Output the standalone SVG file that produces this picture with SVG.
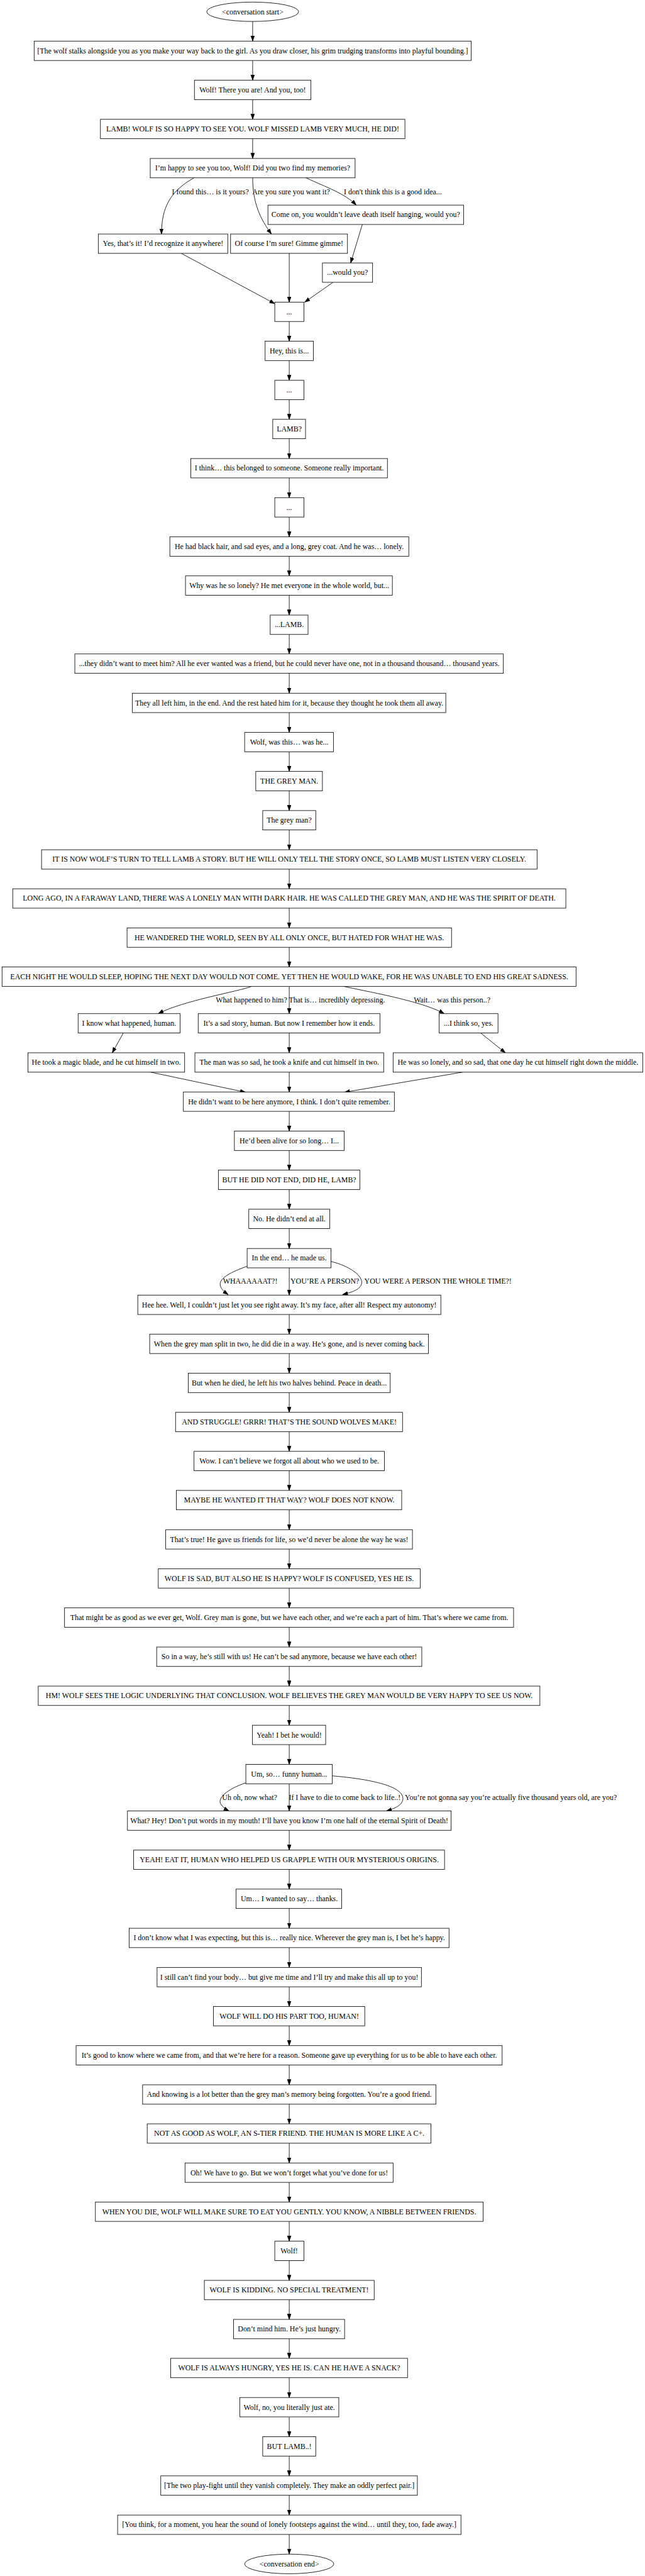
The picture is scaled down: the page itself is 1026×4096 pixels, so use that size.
<svg xmlns="http://www.w3.org/2000/svg" width="1026" height="4096" viewBox="0 0 1026 4096">
<style>
.n rect,.n ellipse{fill:#fff;stroke:#000;stroke-width:1.33}
text{font-family:"Liberation Serif","Times New Roman",serif;font-size:18.67px;fill:#000}
.n text{text-anchor:middle}
.e path{fill:none;stroke:#000;stroke-width:1.33;marker-end:url(#ah)}
</style>
<defs>
<marker id="ah" markerUnits="userSpaceOnUse" markerWidth="15" markerHeight="11" refX="13.33" refY="4.67" orient="auto">
<path d="M0,0 L13.33,4.67 L0,9.33 z" fill="#000" stroke="#000" stroke-width="1"/>
</marker>
</defs>
<rect width="1026" height="4096" fill="#fff"/>
<g transform="scale(0.639)">
<g id="edges" class="e">
<path d="M629,53.4 V102.3"/>
<path d="M629,150.5 V199.7"/>
<path d="M629,248 V296.9"/>
<path d="M629,345 V394.3"/>
<path d="M483,442.5 C425,475 402,515 402,582.3"/>
<path d="M629,442.5 C629,505 648,545 675.6,582.3"/>
<path d="M761.6,442.5 C810,465 860,482 886.6,510.4"/>
<path d="M902,558.2 L873,654.3"/>
<path d="M451.5,630.6 L684,755.6"/>
<path d="M720,630.6 V751.8"/>
<path d="M829,702.5 L758.6,751.8"/>
<path d="M720,800 V849"/>
<path d="M720,897.5 V946.4"/>
<path d="M720,994.6 V1043.5"/>
<path d="M720,1092 V1141"/>
<path d="M720,1189 V1238.4"/>
<path d="M720,1286.6 V1335.9"/>
<path d="M720,1384 V1433"/>
<path d="M720,1481.2 V1530.5"/>
<path d="M720,1578.7 V1627.2"/>
<path d="M720,1676 V1725"/>
<path d="M720,1773.2 V1822.5"/>
<path d="M720,1870.7 V1919.6"/>
<path d="M720,1967.8 V2017"/>
<path d="M720,2065 V2114.5"/>
<path d="M720,2162.4 V2211.6"/>
<path d="M720,2259.8 V2309"/>
<path d="M720,2357.3 V2406.2"/>
<path d="M626.5,2454.4 C595,2467 455,2490 394,2522.3"/>
<path d="M720,2454.4 V2522.3"/>
<path d="M855.8,2454.4 C900,2465 1050,2490 1105.6,2522.3"/>
<path d="M307,2570.5 L279.5,2619.7"/>
<path d="M720,2570.5 V2619.7"/>
<path d="M1196.6,2570.5 L1258,2619.7"/>
<path d="M374.7,2667.9 L611,2717.8"/>
<path d="M720,2667.9 V2717.2"/>
<path d="M1151.6,2667.9 L857.8,2717.8"/>
<path d="M720,2765.4 V2814.6"/>
<path d="M720,2862.8 V2911.7"/>
<path d="M720,2960 V3009"/>
<path d="M720,3057.4 V3106.7"/>
<path d="M615.2,3151 C575,3165 548,3180 548,3195 C548,3205 556,3213 568,3221.3"/>
<path d="M720,3154.9 V3222.7"/>
<path d="M824,3139 C870,3150 905,3175 900,3195 C897,3207 880,3215 852.7,3221.3"/>
<path d="M720,3271 V3319.8"/>
<path d="M720,3368 V3417"/>
<path d="M720,3465.2 V3514.4"/>
<path d="M720,3562.6 V3611.5"/>
<path d="M720,3659.7 V3708.7"/>
<path d="M720,3757.2 V3806.4"/>
<path d="M720,3854.6 V3903.6"/>
<path d="M720,3951.8 V4001"/>
<path d="M720,4049.2 V4098.5"/>
<path d="M720,4146.7 V4195.6"/>
<path d="M720,4244 V4293"/>
<path d="M720,4341.3 V4390.5"/>
<path d="M612,4436.3 C565,4452 540,4475 550,4490 C555,4497 562,4502 570,4506.2"/>
<path d="M720,4438.7 V4506.2"/>
<path d="M827,4419 C900,4425 1000,4440 1003,4474 C1004,4490 985,4500 962,4506.2"/>
<path d="M720,4554.4 V4603.7"/>
<path d="M720,4651.9 V4700.8"/>
<path d="M720,4749 V4798.2"/>
<path d="M720,4846.5 V4895.7"/>
<path d="M720,4944 V4992.8"/>
<path d="M720,5041 V5090.3"/>
<path d="M720,5138.5 V5187.8"/>
<path d="M720,5236 V5284.9"/>
<path d="M720,5333.4 V5382.3"/>
<path d="M720,5430.5 V5479.4"/>
<path d="M720,5527.6 V5576.9"/>
<path d="M720,5625.1 V5674.4"/>
<path d="M720,5722.6 V5771.5"/>
<path d="M720,5819.7 V5868.4"/>
<path d="M720,5917.2 V5965.9"/>
<path d="M720,6014.7 V6063.4"/>
<path d="M720,6112.1 V6160.9"/>
<path d="M720,6209.3 V6258.4"/>
<path d="M720,6306.8 V6355.5"/>
</g>
<g id="edge-labels">
<text x="428" y="483">I found this… is it yours?</text>
<text x="628" y="483">Are you sure you want it?</text>
<text x="856" y="483">I don't think this is a good idea...</text>
<text x="537" y="2495">What happened to him?</text>
<text x="719" y="2495">That is… incredibly depressing.</text>
<text x="1030" y="2495">Wait… was this person..?</text>
<text x="555" y="3193.5">WHAAAAAAT?!</text>
<text x="723" y="3193.5">YOU’RE A PERSON?</text>
<text x="907" y="3193.5">YOU WERE A PERSON THE WHOLE TIME?!</text>
<text x="553" y="4479">Uh oh, now what?</text>
<text x="719" y="4479">If I have to die to come back to life..!</text>
<text x="1008" y="4479">You’re not gonna say you’re actually five thousand years old, are you?</text>
</g>
<g id="start" class="n"><ellipse cx="629" cy="29.3" rx="114.5" ry="24.1"/><text x="629" y="35.3">&lt;conversation start&gt;</text></g>
<g id="n1" class="n"><rect x="85" y="102.3" width="1088" height="48.2"/><text x="629" y="132.4">[The wolf stalks alongside you as you make your way back to the girl. As you draw closer, his grim trudging transforms into playful bounding.]</text></g>
<g id="n2" class="n"><rect x="484" y="199.7" width="290" height="48.2"/><text x="629" y="229.9">Wolf! There you are! And you, too!</text></g>
<g id="n3" class="n"><rect x="250" y="296.9" width="758" height="48.2"/><text x="629" y="327">LAMB! WOLF IS SO HAPPY TO SEE YOU. WOLF MISSED LAMB VERY MUCH, HE DID!</text></g>
<g id="n4" class="n"><rect x="374" y="394.3" width="510" height="48.2"/><text x="629" y="424.4">I’m happy to see you too, Wolf! Did you two find my memories?</text></g>
<g id="n5" class="n"><rect x="667" y="510.4" width="487" height="48.2"/><text x="910.5" y="540.5">Come on, you wouldn’t leave death itself hanging, would you?</text></g>
<g id="n6" class="n"><rect x="244.7" y="582.3" width="322.3" height="48.2"/><text x="405.9" y="612.5">Yes, that’s it! I’d recognize it anywhere!</text></g>
<g id="n7" class="n"><rect x="574" y="582.3" width="291" height="48.2"/><text x="719.5" y="612.5">Of course I’m sure! Gimme gimme!</text></g>
<g id="n8" class="n"><rect x="802.6" y="654.3" width="124.9" height="48.2"/><text x="865" y="684.4">...would you?</text></g>
<g id="n9" class="n"><rect x="684" y="751.8" width="72.5" height="48.2"/><text x="720" y="781.9">...</text></g>
<g id="n10" class="n"><rect x="660" y="849" width="120" height="48.2"/><text x="720" y="879.2">Hey, this is...</text></g>
<g id="n11" class="n"><rect x="684" y="946.4" width="72.5" height="48.2"/><text x="720" y="976.5">...</text></g>
<g id="n12" class="n"><rect x="679" y="1043.5" width="81.6" height="48.2"/><text x="720" y="1073.7">LAMB?</text></g>
<g id="n13" class="n"><rect x="475" y="1141" width="489.4" height="48.2"/><text x="720" y="1171">I think… this belonged to someone. Someone really important.</text></g>
<g id="n14" class="n"><rect x="684" y="1238.4" width="72.5" height="48.2"/><text x="720" y="1268.5">...</text></g>
<g id="n15" class="n"><rect x="422.8" y="1335.9" width="594.8" height="48.2"/><text x="720" y="1366">He had black hair, and sad eyes, and a long, grey coat. And he was… lonely.</text></g>
<g id="n16" class="n"><rect x="461.7" y="1433" width="515" height="48.2"/><text x="720" y="1463.1">Why was he so lonely? He met everyone in the whole world, but...</text></g>
<g id="n17" class="n"><rect x="672.6" y="1530.5" width="94.2" height="48.2"/><text x="720" y="1560.6">...LAMB.</text></g>
<g id="n18" class="n"><rect x="186.3" y="1627.2" width="1066.7" height="48.2"/><text x="720" y="1657.6">...they didn’t want to meet him? All he ever wanted was a friend, but he could never have one, not in a thousand thousand… thousand years.</text></g>
<g id="n19" class="n"><rect x="329.6" y="1725" width="780.1" height="48.2"/><text x="720" y="1755.1">They all left him, in the end. And the rest hated him for it, because they thought he took them all away.</text></g>
<g id="n20" class="n"><rect x="609" y="1822.5" width="221" height="48.2"/><text x="720" y="1852.6">Wolf, was this… was he...</text></g>
<g id="n21" class="n"><rect x="636.7" y="1919.6" width="165.9" height="48.2"/><text x="720" y="1949.7">THE GREY MAN.</text></g>
<g id="n22" class="n"><rect x="654" y="2017" width="132" height="48.2"/><text x="720" y="2047">The grey man?</text></g>
<g id="n23" class="n"><rect x="103.4" y="2114.5" width="1233.6" height="48.2"/><text x="720" y="2144.5">IT IS NOW WOLF’S TURN TO TELL LAMB A STORY. BUT HE WILL ONLY TELL THE STORY ONCE, SO LAMB MUST LISTEN VERY CLOSELY.</text></g>
<g id="n24" class="n"><rect x="31.7" y="2211.6" width="1376.9" height="48.2"/><text x="720" y="2241.7">LONG AGO, IN A FARAWAY LAND, THERE WAS A LONELY MAN WITH DARK HAIR. HE WAS CALLED THE GREY MAN, AND HE WAS THE SPIRIT OF DEATH.</text></g>
<g id="n25" class="n"><rect x="316.3" y="2309" width="807.7" height="48.2"/><text x="720" y="2339.2">HE WANDERED THE WORLD, SEEN BY ALL ONLY ONCE, BUT HATED FOR WHAT HE WAS.</text></g>
<g id="n26" class="n"><rect x="5.1" y="2406.2" width="1428.9" height="48.2"/><text x="720" y="2436.3">EACH NIGHT HE WOULD SLEEP, HOPING THE NEXT DAY WOULD NOT COME. YET THEN HE WOULD WAKE, FOR HE WAS UNABLE TO END HIS GREAT SADNESS.</text></g>
<g id="n27" class="n"><rect x="194.5" y="2522.3" width="253.9" height="48.2"/><text x="321.5" y="2552.4">I know what happened, human.</text></g>
<g id="n28" class="n"><rect x="493.4" y="2522.3" width="452.4" height="48.2"/><text x="719.6" y="2552.4">It’s a sad story, human. But now I remember how it ends.</text></g>
<g id="n29" class="n"><rect x="1093.3" y="2522.3" width="146.4" height="48.2"/><text x="1166.5" y="2552.4">...I think so, yes.</text></g>
<g id="n30" class="n"><rect x="69.6" y="2619.7" width="390" height="48.2"/><text x="264.6" y="2649.8">He took a magic blade, and he cut himself in two.</text></g>
<g id="n31" class="n"><rect x="485.2" y="2619.7" width="469.9" height="48.2"/><text x="720.2" y="2649.8">The man was so sad, he took a knife and cut himself in two.</text></g>
<g id="n32" class="n"><rect x="978.6" y="2619.7" width="621.4" height="48.2"/><text x="1289.3" y="2649.8">He was so lonely, and so sad, that one day he cut himself right down the middle.</text></g>
<g id="n33" class="n"><rect x="456.5" y="2717.2" width="525.2" height="48.2"/><text x="720" y="2747.3">He didn’t want to be here anymore, I think. I don’t quite remember.</text></g>
<g id="n34" class="n"><rect x="583.5" y="2814.6" width="273.3" height="48.2"/><text x="720" y="2844.7">He’d been alive for so long… I...</text></g>
<g id="n35" class="n"><rect x="543.6" y="2911.7" width="352.1" height="48.2"/><text x="720" y="2941.9">BUT HE DID NOT END, DID HE, LAMB?</text></g>
<g id="n36" class="n"><rect x="619.3" y="3009" width="201.7" height="48.2"/><text x="720" y="3039.2">No. He didn’t end at all.</text></g>
<g id="n37" class="n"><rect x="615.2" y="3106.7" width="208.8" height="48.2"/><text x="720" y="3136.8">In the end… he made us.</text></g>
<g id="n38" class="n"><rect x="343" y="3222.7" width="754.4" height="48.2"/><text x="720" y="3252.9">Hee hee. Well, I couldn’t just let you see right away. It’s my face, after all! Respect my autonomy!</text></g>
<g id="n39" class="n"><rect x="372.6" y="3319.8" width="694.1" height="48.2"/><text x="720" y="3349.9">When the grey man split in two, he did die in a way. He’s gone, and is never coming back.</text></g>
<g id="n40" class="n"><rect x="468.8" y="3417" width="502.6" height="48.2"/><text x="720" y="3447.1">But when he died, he left his two halves behind. Peace in death...</text></g>
<g id="n41" class="n"><rect x="437" y="3514.4" width="565" height="48.2"/><text x="720" y="3544.5">AND STRUGGLE! GRRR! THAT’S THE SOUND WOLVES MAKE!</text></g>
<g id="n42" class="n"><rect x="483" y="3611.5" width="474" height="48.2"/><text x="720" y="3641.6">Wow. I can’t believe we forgot all about who we used to be.</text></g>
<g id="n43" class="n"><rect x="439" y="3708.7" width="561" height="48.2"/><text x="720" y="3739">MAYBE HE WANTED IT THAT WAY? WOLF DOES NOT KNOW.</text></g>
<g id="n44" class="n"><rect x="412.5" y="3806.4" width="614.2" height="48.2"/><text x="720" y="3836.5">That’s true! He gave us friends for life, so we’d never be alone the way he was!</text></g>
<g id="n45" class="n"><rect x="394" y="3903.6" width="652" height="48.2"/><text x="720" y="3933.7">WOLF IS SAD, BUT ALSO HE IS HAPPY? WOLF IS CONFUSED, YES HE IS.</text></g>
<g id="n46" class="n"><rect x="160.7" y="4001" width="1117.8" height="48.2"/><text x="720" y="4031.1">That might be as good as we ever get, Wolf. Grey man is gone, but we have each other, and we’re each a part of him. That’s where we came from.</text></g>
<g id="n47" class="n"><rect x="390" y="4098.5" width="660" height="48.2"/><text x="720" y="4128.6">So in a way, he’s still with us! He can’t be sad anymore, because we have each other!</text></g>
<g id="n48" class="n"><rect x="95.2" y="4195.6" width="1248.8" height="48.2"/><text x="720" y="4225.8">HM! WOLF SEES THE LOGIC UNDERLYING THAT CONCLUSION. WOLF BELIEVES THE GREY MAN WOULD BE VERY HAPPY TO SEE US NOW.</text></g>
<g id="n49" class="n"><rect x="628.5" y="4293" width="182.2" height="48.2"/><text x="720" y="4323.2">Yeah! I bet he would!</text></g>
<g id="n50" class="n"><rect x="612" y="4390.5" width="215" height="48.2"/><text x="720" y="4420.6">Um, so… funny human...</text></g>
<g id="n51" class="n"><rect x="317.3" y="4506.2" width="805.7" height="48.2"/><text x="720" y="4536.3">What? Hey! Don’t put words in my mouth! I’ll have you know I’m one half of the eternal Spirit of Death!</text></g>
<g id="n52" class="n"><rect x="332.7" y="4603.7" width="773.9" height="48.2"/><text x="720" y="4633.8">YEAH! EAT IT, HUMAN WHO HELPED US GRAPPLE WITH OUR MYSTERIOUS ORIGINS.</text></g>
<g id="n53" class="n"><rect x="587.5" y="4700.8" width="263.1" height="48.2"/><text x="720" y="4730.9">Um… I wanted to say… thanks.</text></g>
<g id="n54" class="n"><rect x="321.4" y="4798.2" width="796.4" height="48.2"/><text x="720" y="4828.4">I don’t know what I was expecting, but this is… really nice. Wherever the grey man is, I bet he’s happy.</text></g>
<g id="n55" class="n"><rect x="391" y="4895.7" width="658" height="48.2"/><text x="720" y="4925.9">I still can’t find your body… but give me time and I’ll try and make this all up to you!</text></g>
<g id="n56" class="n"><rect x="531.2" y="4992.8" width="376.8" height="48.2"/><text x="720" y="5022.9">WOLF WILL DO HIS PART TOO, HUMAN!</text></g>
<g id="n57" class="n"><rect x="189.4" y="5090.3" width="1060.6" height="48.2"/><text x="720" y="5120.4">It’s good to know where we came from, and that we’re here for a reason. Someone gave up everything for us to be able to have each other.</text></g>
<g id="n58" class="n"><rect x="355" y="5187.8" width="730" height="48.2"/><text x="720" y="5217.9">And knowing is a lot better than the grey man’s memory being forgotten. You’re a good friend.</text></g>
<g id="n59" class="n"><rect x="366.5" y="5284.9" width="706.3" height="48.2"/><text x="720" y="5315.2">NOT AS GOOD AS WOLF, AN S-TIER FRIEND. THE HUMAN IS MORE LIKE A C+.</text></g>
<g id="n60" class="n"><rect x="460.6" y="5382.3" width="518" height="48.2"/><text x="720" y="5412.4">Oh! We have to go. But we won’t forget what you’ve done for us!</text></g>
<g id="n61" class="n"><rect x="237.5" y="5479.4" width="965.2" height="48.2"/><text x="720" y="5509.5">WHEN YOU DIE, WOLF WILL MAKE SURE TO EAT YOU GENTLY. YOU KNOW, A NIBBLE BETWEEN FRIENDS.</text></g>
<g id="n62" class="n"><rect x="684" y="5576.9" width="72.5" height="48.2"/><text x="720" y="5607">Wolf!</text></g>
<g id="n63" class="n"><rect x="508.7" y="5674.4" width="422.8" height="48.2"/><text x="720" y="5704.5">WOLF IS KIDDING. NO SPECIAL TREATMENT!</text></g>
<g id="n64" class="n"><rect x="581.4" y="5771.5" width="276.4" height="48.2"/><text x="720" y="5801.6">Don’t mind him. He’s just hungry.</text></g>
<g id="n65" class="n"><rect x="424.8" y="5868.4" width="589.7" height="48.2"/><text x="720" y="5898.8">WOLF IS ALWAYS HUNGRY, YES HE IS. CAN HE HAVE A SNACK?</text></g>
<g id="n66" class="n"><rect x="596.8" y="5965.9" width="246.6" height="48.2"/><text x="720" y="5996.3">Wolf, no, you literally just ate.</text></g>
<g id="n67" class="n"><rect x="654" y="6063.4" width="132" height="48.2"/><text x="720" y="6093.8">BUT LAMB..!</text></g>
<g id="n68" class="n"><rect x="400.2" y="6160.9" width="638.8" height="48.2"/><text x="720" y="6191.1">[The two play-fight until they vanish completely. They make an oddly perfect pair.]</text></g>
<g id="n69" class="n"><rect x="292.8" y="6258.4" width="854.7" height="48.2"/><text x="720" y="6288.6">[You think, for a moment, you hear the sound of lonely footsteps against the wind… until they, too, fade away.]</text></g>
<g id="end" class="n"><ellipse cx="720" cy="6380" rx="111" ry="24.4"/><text x="720" y="6386">&lt;conversation end&gt;</text></g>
</g>
</svg>
